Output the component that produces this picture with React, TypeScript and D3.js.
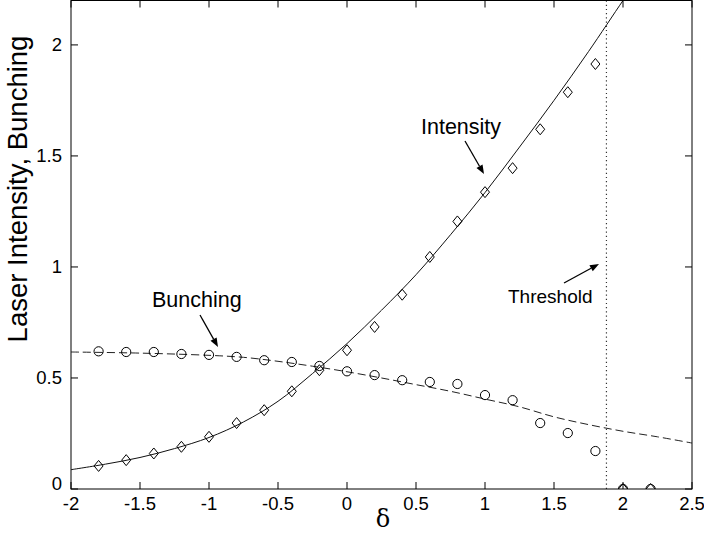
import React from "react";
import * as d3 from "d3";

const deltaPoints = [-1.8, -1.6, -1.4, -1.2, -1.0, -0.8, -0.6, -0.4, -0.2, 0, 0.2, 0.4, 0.6, 0.8, 1.0, 1.2, 1.4, 1.6, 1.8, 2.0, 2.2];
const intensityPoints = [0.104, 0.13, 0.16, 0.19, 0.235, 0.297, 0.355, 0.44, 0.535, 0.625, 0.73, 0.875, 1.045, 1.205, 1.337, 1.445, 1.62, 1.787, 1.914, 0, 0];
const bunchingPoints = [0.62, 0.617, 0.617, 0.608, 0.604, 0.595, 0.58, 0.572, 0.554, 0.53, 0.513, 0.49, 0.482, 0.473, 0.423, 0.4, 0.297, 0.252, 0.171, 0, 0];

const intensityCurveX = [-2.0, -1.75, -1.5, -1.25, -1.0, -0.75, -0.5, -0.25, 0, 0.25, 0.5, 0.75, 1.0, 1.25, 1.5, 1.75, 2.0, 2.1];
const intensityCurveY = [0.087, 0.112, 0.142, 0.182, 0.232, 0.302, 0.395, 0.52, 0.655, 0.805, 0.965, 1.145, 1.335, 1.54, 1.75, 1.97, 2.2, 2.29];

const bunchingCurveX = [-2.0, -1.5, -1.0, -0.75, -0.5, -0.25, 0, 0.25, 0.5, 0.75, 1.0, 1.25, 1.5, 1.75, 2.0, 2.25, 2.5];
const bunchingCurveY = [0.617, 0.612, 0.602, 0.593, 0.575, 0.553, 0.528, 0.5, 0.47, 0.44, 0.405, 0.37, 0.325, 0.29, 0.26, 0.235, 0.207];

const thresholdX = 1.88;

const xTicks = [-2, -1.5, -1, -0.5, 0, 0.5, 1, 1.5, 2, 2.5];
const yTicks = [0, 0.5, 1, 1.5, 2];

const W = 704, H = 534;
const L = 71, R = 692, T = 0.5, B = 489;

export default function App() {
  const x = d3.scaleLinear().domain([-2, 2.5]).range([L, R]);
  const y = d3.scaleLinear().domain([0, 2.2]).range([B, T]);
  const line = d3.line<[number, number]>().x(d => x(d[0])).y(d => y(d[1])).curve(d3.curveCatmullRom);
  const iCurve = line(intensityCurveX.map((v, i) => [v, intensityCurveY[i]]) as [number, number][]) || "";
  const bCurve = line(bunchingCurveX.map((v, i) => [v, bunchingCurveY[i]]) as [number, number][]) || "";
  const font = "'Liberation Sans', Arial, Helvetica, sans-serif";

  const arrow = (x1: number, y1: number, x2: number, y2: number, key: string) => {
    const ang = Math.atan2(y2 - y1, x2 - x1);
    const len = 9, wid = 3.5;
    const bx = x2 - len * Math.cos(ang), by = y2 - len * Math.sin(ang);
    const px = -Math.sin(ang) * wid, py = Math.cos(ang) * wid;
    return (
      <g key={key}>
        <line x1={x1} y1={y1} x2={bx} y2={by} stroke="#000" strokeWidth={1.3} />
        <polygon points={`${x2},${y2} ${bx + px},${by + py} ${bx - px},${by - py}`} fill="#000" />
      </g>
    );
  };

  return (
    <svg width={W} height={H} style={{ position: "absolute", left: 0, top: 0, background: "#fff" }} fontFamily={font}>
      <defs>
        <clipPath id="plotClip">
          <rect x={L} y={T} width={R - L} height={B - T} />
        </clipPath>
      </defs>
      <rect x={0} y={0} width={W} height={H} fill="#fff" />
      <g clipPath="url(#plotClip)">
        <line x1={x(thresholdX)} x2={x(thresholdX)} y1={T} y2={B} stroke="#333" strokeWidth={1.2} strokeDasharray="1.2,3" />
        <path d={bCurve} fill="none" stroke="#222" strokeWidth={1} strokeDasharray="8,4" />
        <path d={iCurve} fill="none" stroke="#111" strokeWidth={1} />
        {deltaPoints.map((d, i) => {
          const cx = x(d), cy = y(intensityPoints[i]);
          return <path key={"d" + i} d={`M${cx},${cy - 5.5}L${cx + 4.5},${cy}L${cx},${cy + 5.5}L${cx - 4.5},${cy}Z`} fill="none" stroke="#000" strokeWidth={1} />;
        })}
        {deltaPoints.map((d, i) => (
          <circle key={"c" + i} cx={x(d)} cy={y(bunchingPoints[i])} r={4.6} fill="none" stroke="#000" strokeWidth={1} />
        ))}
      </g>
      <rect x={L} y={T} width={R - L} height={B - T} fill="none" stroke="#000" strokeWidth={1} />
      {xTicks.map(t => (
        <g key={"xt" + t}>
          <line x1={x(t)} x2={x(t)} y1={B} y2={B - 7} stroke="#000" />
          <line x1={x(t)} x2={x(t)} y1={T} y2={T + 7} stroke="#000" />
          <text x={x(t)} y={510} fontSize={18.5} textAnchor="middle" fill="#000">{String(t)}</text>
        </g>
      ))}
      {yTicks.map(t => (
        <g key={"yt" + t}>
          <line x1={L} x2={L + 7} y1={y(t)} y2={y(t)} stroke="#000" />
          <line x1={R} x2={R - 7} y1={y(t)} y2={y(t)} stroke="#000" />
          <text x={62} y={y(t) + (t === 0 ? 1 : 6)} fontSize={18.5} textAnchor="end" fill="#000">{String(t)}</text>
        </g>
      ))}
      <text x={383} y={527} fontSize={24} textAnchor="middle" fontFamily="'DejaVu Serif', serif" fill="#000">δ</text>
      <text transform="translate(27,189) rotate(-90)" fontSize={27.5} textAnchor="middle" fill="#000">Laser Intensity, Bunching</text>
      <text x={421} y={134} fontSize={21.5} fill="#000">Intensity</text>
      {arrow(465, 141, 484, 174, "a1")}
      <text x={152} y={307} fontSize={21.5} fill="#000">Bunching</text>
      {arrow(200, 315, 218, 347, "a2")}
      <text x={508} y={303} fontSize={19} fill="#000">Threshold</text>
      {arrow(564, 283, 599, 264, "a3")}
    </svg>
  );
}
